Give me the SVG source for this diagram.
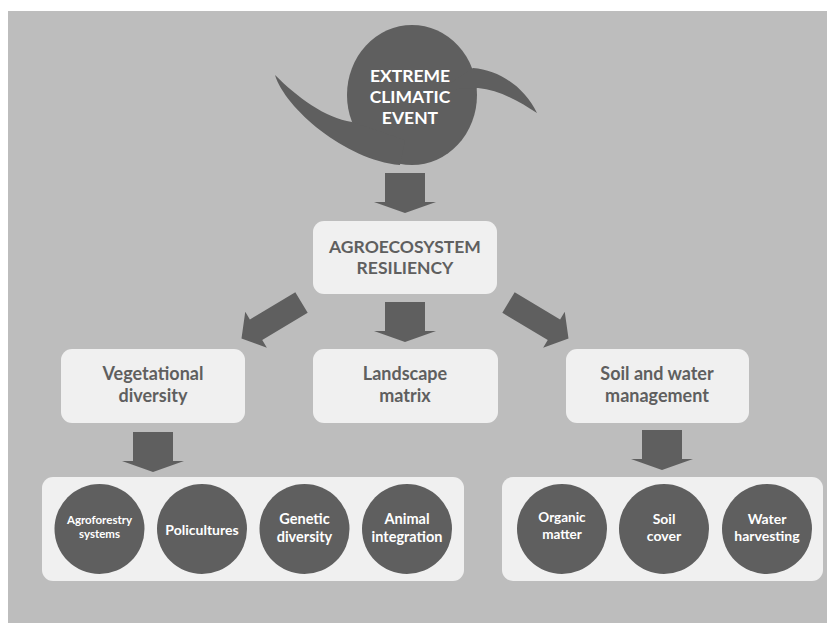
<svg xmlns="http://www.w3.org/2000/svg" width="827" height="623" viewBox="0 0 827 623">
<style>
.bg{fill:#bdbdbd}
.box{fill:#f0f0f0}
.dark{fill:#5f5f5f}
.t{font-family:Lato,"Open Sans","Liberation Sans",sans-serif;font-weight:bold;text-anchor:middle}
.tw{fill:#ffffff}
.tg{fill:#5f5f5f}
</style>
<defs>
<path id="arrowV" d="M-20,0 H20 V29 H31 L0,40 L-31,29 H-20 Z"/>
<path id="arrowD" d="M-12,0 H12 V53 H21 L0,70 L-21,53 H-12 Z"/>
</defs>
<rect class="bg" x="8" y="11" width="819" height="612"/>

<g id="event">
<ellipse class="dark" cx="412" cy="95" rx="65" ry="70"/>
<path class="dark" d="M275,75 C297,97 325,118 352,122 L405,140 L400,165 C345,160 285,108 275,75 Z"/>
<path class="dark" d="M473,68 C500,70 525,88 537,113 C520,102 500,90 478,88 L440,90 Z"/>
<text class="t tw" x="410" y="82" font-size="17.5">EXTREME</text>
<text class="t tw" x="410" y="103" font-size="17.5">CLIMATIC</text>
<text class="t tw" x="410" y="124" font-size="17.5">EVENT</text>
</g>

<g id="connectors">
<use href="#arrowV" class="dark" transform="translate(405,173)"/>
<use href="#arrowV" class="dark" transform="translate(405,302)"/>
<use href="#arrowD" class="dark" transform="translate(301.5,302.5) rotate(59)"/>
<use href="#arrowD" class="dark" transform="translate(508.5,302.5) rotate(-59)"/>
<use href="#arrowV" class="dark" transform="translate(153,432)"/>
<use href="#arrowV" class="dark" transform="translate(662,430)"/>
</g>

<g id="resiliency">
<rect class="box" x="313" y="221" width="184" height="73" rx="11"/>
<text class="t tg" x="405" y="253" font-size="17.5">AGROECOSYSTEM</text>
<text class="t tg" x="405" y="274" font-size="17.5">RESILIENCY</text>
</g>

<g id="vegetational">
<rect class="box" x="61" y="349" width="184" height="74" rx="11"/>
<text class="t tg" x="153" y="380" font-size="18">Vegetational</text>
<text class="t tg" x="153" y="402" font-size="18">diversity</text>
</g>

<g id="landscape">
<rect class="box" x="313" y="349" width="185" height="74" rx="11"/>
<text class="t tg" x="405" y="380" font-size="18">Landscape</text>
<text class="t tg" x="405" y="402" font-size="18">matrix</text>
</g>

<g id="soilwater">
<rect class="box" x="566" y="349" width="183" height="74" rx="11"/>
<text class="t tg" x="657" y="380" font-size="18">Soil and water</text>
<text class="t tg" x="657" y="402" font-size="18">management</text>
</g>

<g id="vegetational-practices">
<rect class="box" x="42" y="477" width="422" height="104" rx="11"/>
</g>
<g id="agroforestry">
<circle class="dark" cx="99.5" cy="529" r="45"/>
<text class="t tw" x="99.5" y="524" font-size="11.5">Agroforestry</text>
<text class="t tw" x="99.5" y="538" font-size="11.5">systems</text>
</g>
<g id="policultures">
<circle class="dark" cx="202" cy="529" r="45"/>
<text class="t tw" x="202" y="535" font-size="14">Policultures</text>
</g>
<g id="genetic">
<circle class="dark" cx="304.5" cy="529" r="45"/>
<text class="t tw" x="304.5" y="524" font-size="14.5">Genetic</text>
<text class="t tw" x="304.5" y="541.5" font-size="14.5">diversity</text>
</g>
<g id="animal">
<circle class="dark" cx="407" cy="529" r="45"/>
<text class="t tw" x="407" y="524" font-size="14.5">Animal</text>
<text class="t tw" x="407" y="541.5" font-size="14.5">integration</text>
</g>

<g id="soil-practices">
<rect class="box" x="502" y="477" width="321" height="104" rx="11"/>
</g>
<g id="organic">
<circle class="dark" cx="562" cy="529" r="45"/>
<text class="t tw" x="562" y="522" font-size="13.5">Organic</text>
<text class="t tw" x="562" y="538.5" font-size="13.5">matter</text>
</g>
<g id="soilcover">
<circle class="dark" cx="664" cy="529" r="45"/>
<text class="t tw" x="664" y="524" font-size="14">Soil</text>
<text class="t tw" x="664" y="541" font-size="14">cover</text>
</g>
<g id="waterharvesting">
<circle class="dark" cx="767" cy="529" r="45"/>
<text class="t tw" x="767" y="524" font-size="14">Water</text>
<text class="t tw" x="767" y="541" font-size="14">harvesting</text>
</g>
</svg>
